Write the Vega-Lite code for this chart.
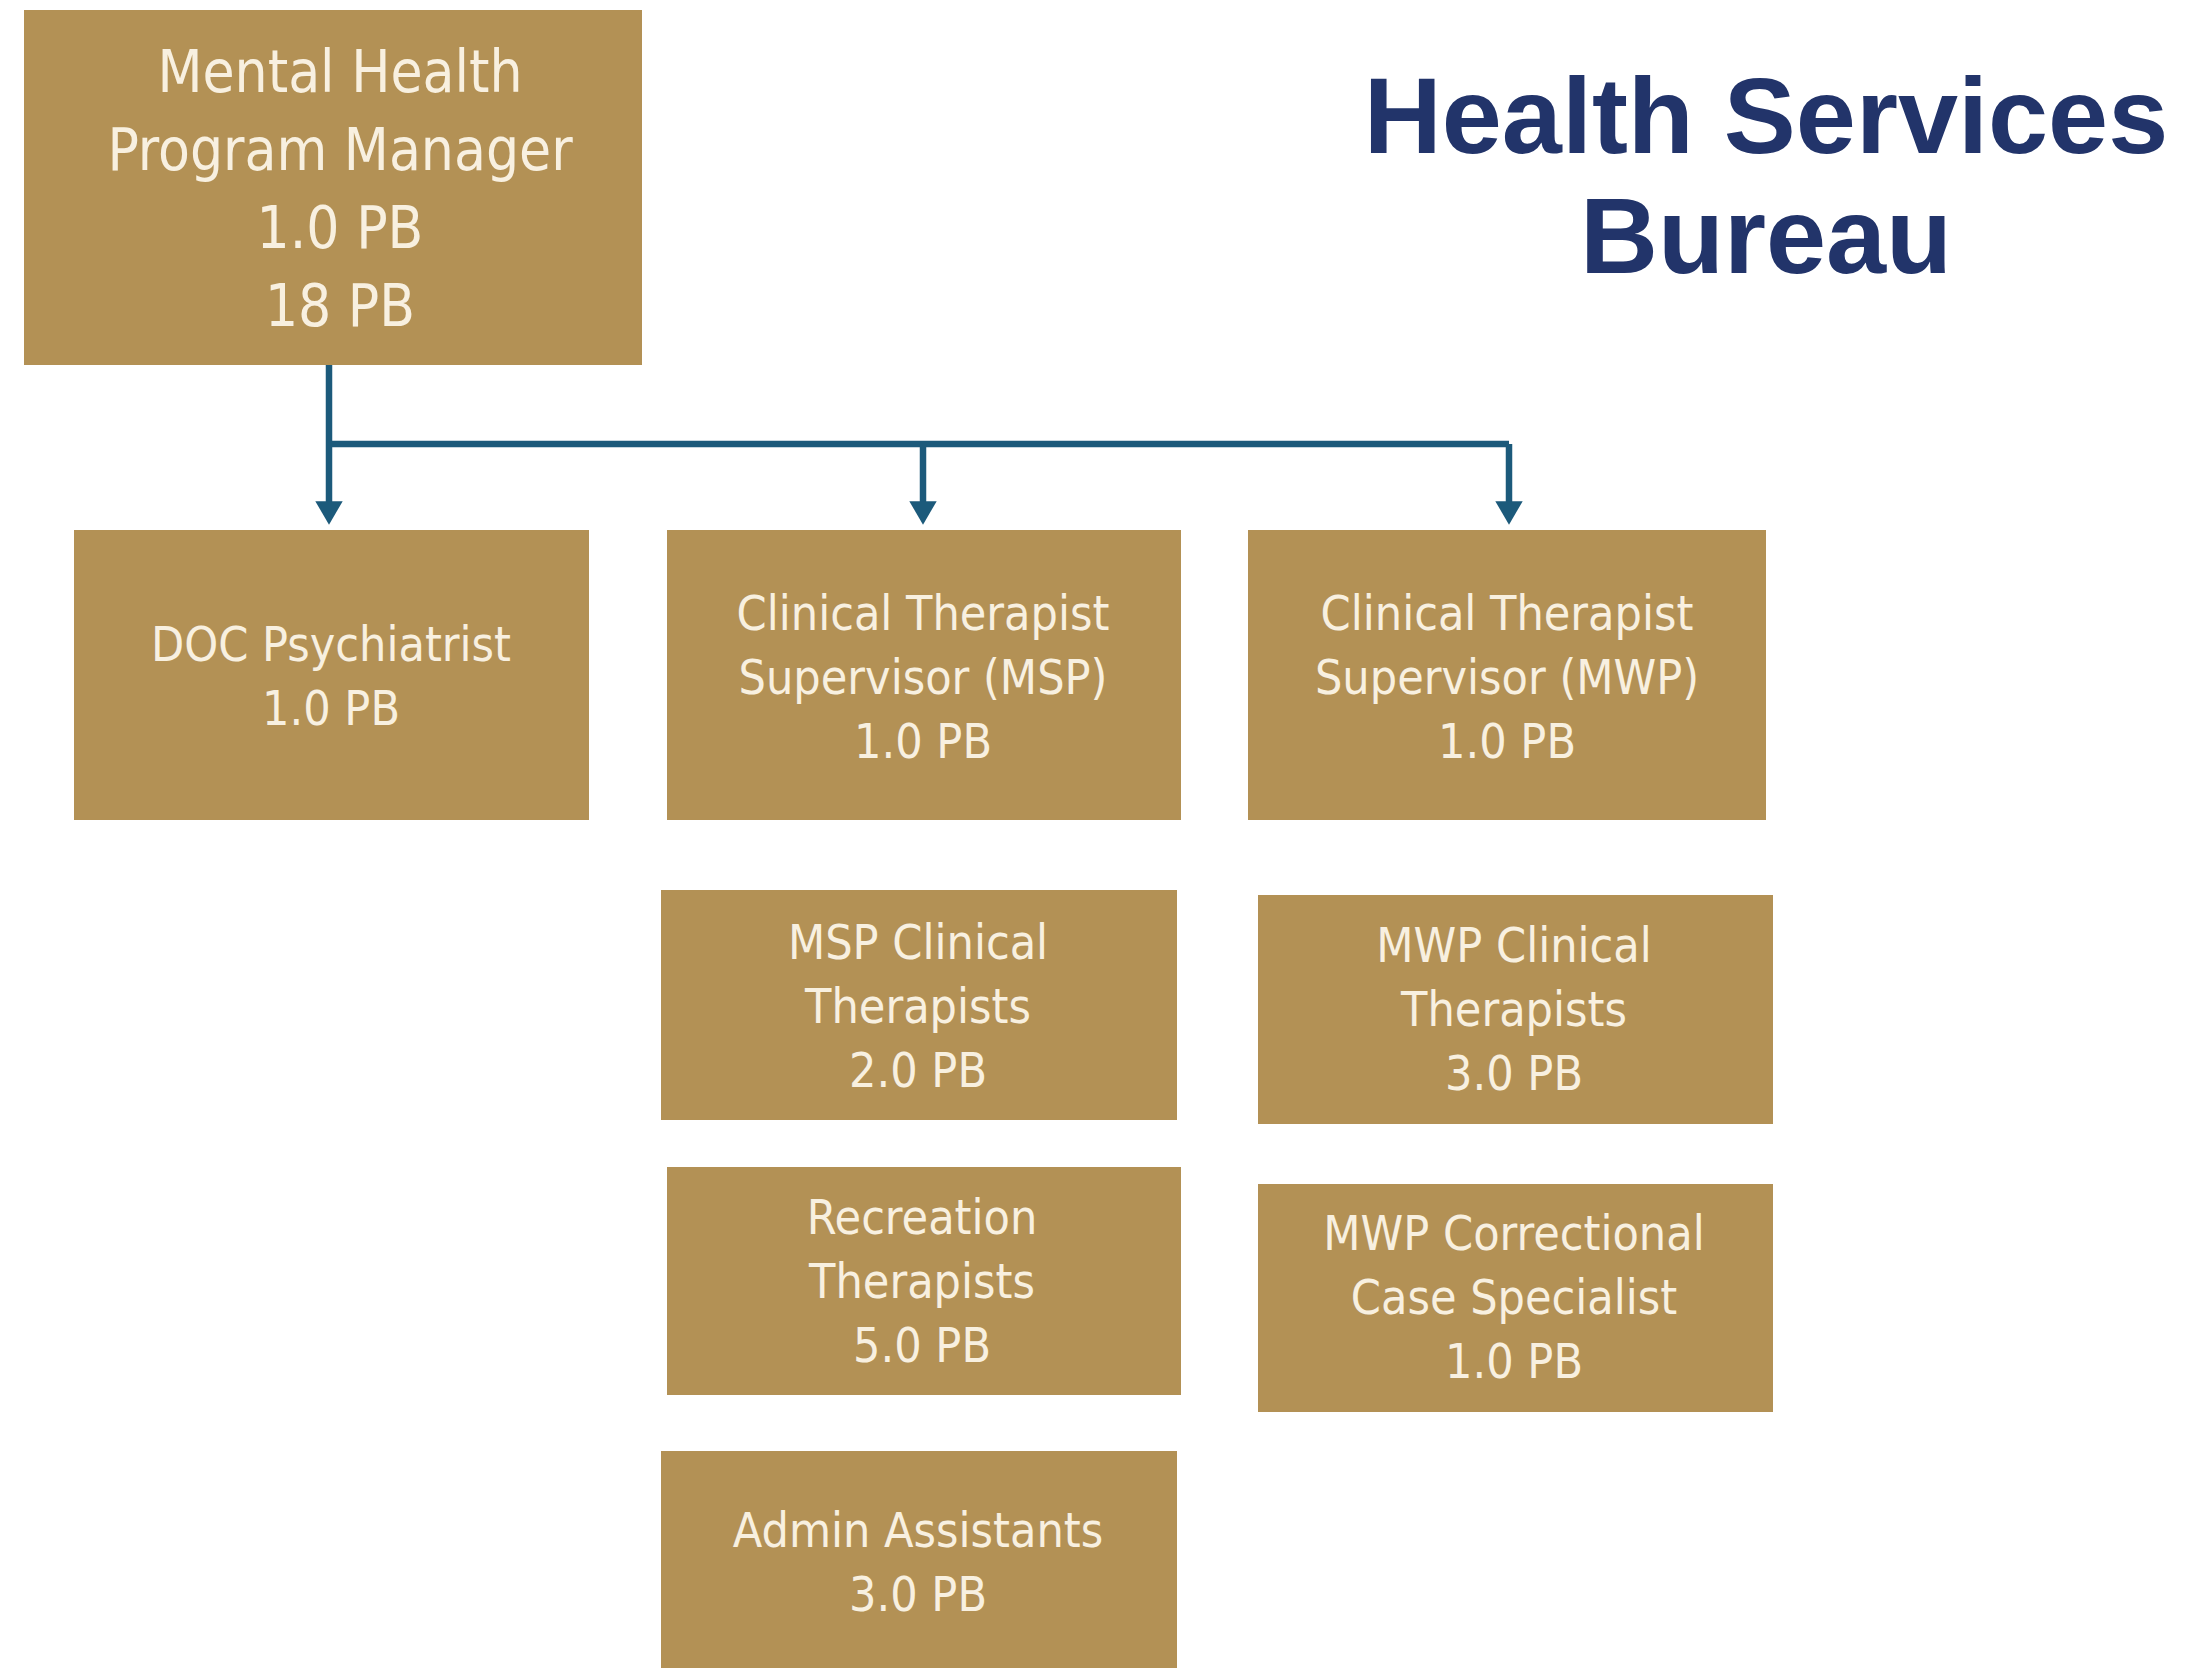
{
  "$schema": "https://vega.github.io/schema/vega-lite/v6.json",
  "width": 2187,
  "height": 1668,
  "autosize": {"type": "none"},
  "padding": 0,
  "background": "white",
  "config": {"view": {"stroke": null}},
  "datasets": {
    "boxes": [
      {"node": "Mental Health Program Manager", "tier": "head", "label": "Mental Health\nProgram Manager\n1.0 PB\n18 PB", "left": 24, "right": 642, "top": 10, "bottom": 365, "tx": 340, "ty": 75},
      {"node": "DOC Psychiatrist", "tier": "unit", "label": "DOC Psychiatrist\n1.0 PB", "left": 74, "right": 589, "top": 530, "bottom": 820, "tx": 331, "ty": 647},
      {"node": "Clinical Therapist Supervisor (MSP)", "tier": "unit", "label": "Clinical Therapist\nSupervisor (MSP)\n1.0 PB", "left": 667, "right": 1181, "top": 530, "bottom": 820, "tx": 923, "ty": 616},
      {"node": "Clinical Therapist Supervisor (MWP)", "tier": "unit", "label": "Clinical Therapist\nSupervisor (MWP)\n1.0 PB", "left": 1248, "right": 1766, "top": 530, "bottom": 820, "tx": 1507, "ty": 616},
      {"node": "MSP Clinical Therapists", "tier": "unit", "label": "MSP Clinical\nTherapists\n2.0 PB", "left": 661, "right": 1177, "top": 890, "bottom": 1120, "tx": 918, "ty": 945},
      {"node": "MWP Clinical Therapists", "tier": "unit", "label": "MWP Clinical\nTherapists\n3.0 PB", "left": 1258, "right": 1773, "top": 895, "bottom": 1124, "tx": 1514, "ty": 948},
      {"node": "Recreation Therapists", "tier": "unit", "label": "Recreation\nTherapists\n5.0 PB", "left": 667, "right": 1181, "top": 1167, "bottom": 1395, "tx": 922, "ty": 1220},
      {"node": "MWP Correctional Case Specialist", "tier": "unit", "label": "MWP Correctional\nCase Specialist\n1.0 PB", "left": 1258, "right": 1773, "top": 1184, "bottom": 1412, "tx": 1514, "ty": 1236},
      {"node": "Admin Assistants", "tier": "unit", "label": "Admin Assistants\n3.0 PB", "left": 661, "right": 1177, "top": 1451, "bottom": 1668, "tx": 918, "ty": 1533}
    ],
    "links": [
      {"segment": "trunk to DOC", "x0": 329, "y0": 365, "x1": 329, "y1": 508},
      {"segment": "bar", "x0": 329, "y0": 444, "x1": 1509, "y1": 444},
      {"segment": "drop MSP", "x0": 923, "y0": 444, "x1": 923, "y1": 508},
      {"segment": "drop MWP", "x0": 1509, "y0": 444, "x1": 1509, "y1": 508}
    ],
    "arrows": [
      {"to": "DOC Psychiatrist", "x": 329, "y": 513},
      {"to": "Clinical Therapist Supervisor (MSP)", "x": 923, "y": 513},
      {"to": "Clinical Therapist Supervisor (MWP)", "x": 1509, "y": 513}
    ],
    "heading": [
      {"text": "Health Services\nBureau", "x": 1766, "y": 121}
    ]
  },
  "layer": [
    {
      "data": {"name": "boxes"},
      "mark": {"type": "rect", "color": "#b39155"},
      "encoding": {
        "x": {"field": "left", "type": "quantitative", "scale": {"domain": [0, 2187], "nice": false, "zero": false}, "axis": null},
        "x2": {"field": "right"},
        "y": {"field": "top", "type": "quantitative", "scale": {"domain": [0, 1668], "reverse": true, "nice": false, "zero": false}, "axis": null},
        "y2": {"field": "bottom"}
      }
    },
    {
      "data": {"name": "links"},
      "mark": {"type": "rule", "color": "#1c5a7b", "strokeWidth": 6.5},
      "encoding": {
        "x": {"field": "x0", "type": "quantitative"},
        "x2": {"field": "x1"},
        "y": {"field": "y0", "type": "quantitative"},
        "y2": {"field": "y1"}
      }
    },
    {
      "data": {"name": "arrows"},
      "mark": {"type": "point", "shape": "triangle-down", "filled": true, "color": "#1c5a7b", "size": 750, "opacity": 1},
      "encoding": {
        "x": {"field": "x", "type": "quantitative"},
        "y": {"field": "y", "type": "quantitative"}
      }
    },
    {
      "data": {"name": "boxes"},
      "transform": [{"filter": "datum.tier === 'head'"}],
      "mark": {"type": "text", "color": "#f8f0e0", "font": "DejaVu Sans Condensed, Liberation Sans Narrow, Liberation Sans", "fontSize": 58, "lineHeight": 78, "align": "center", "baseline": "middle", "lineBreak": "\n"},
      "encoding": {
        "x": {"field": "tx", "type": "quantitative"},
        "y": {"field": "ty", "type": "quantitative"},
        "text": {"field": "label"}
      }
    },
    {
      "data": {"name": "boxes"},
      "transform": [{"filter": "datum.tier === 'unit'"}],
      "mark": {"type": "text", "color": "#f8f0e0", "font": "DejaVu Sans Condensed, Liberation Sans Narrow, Liberation Sans", "fontSize": 48, "lineHeight": 64, "align": "center", "baseline": "middle", "lineBreak": "\n"},
      "encoding": {
        "x": {"field": "tx", "type": "quantitative"},
        "y": {"field": "ty", "type": "quantitative"},
        "text": {"field": "label"}
      }
    },
    {
      "data": {"name": "heading"},
      "mark": {"type": "text", "color": "#22346a", "font": "Liberation Sans, Arial, sans-serif", "fontWeight": "bold", "fontSize": 108, "lineHeight": 120, "align": "center", "baseline": "middle", "lineBreak": "\n"},
      "encoding": {
        "x": {"field": "x", "type": "quantitative"},
        "y": {"field": "y", "type": "quantitative"},
        "text": {"field": "text"}
      }
    }
  ]
}
